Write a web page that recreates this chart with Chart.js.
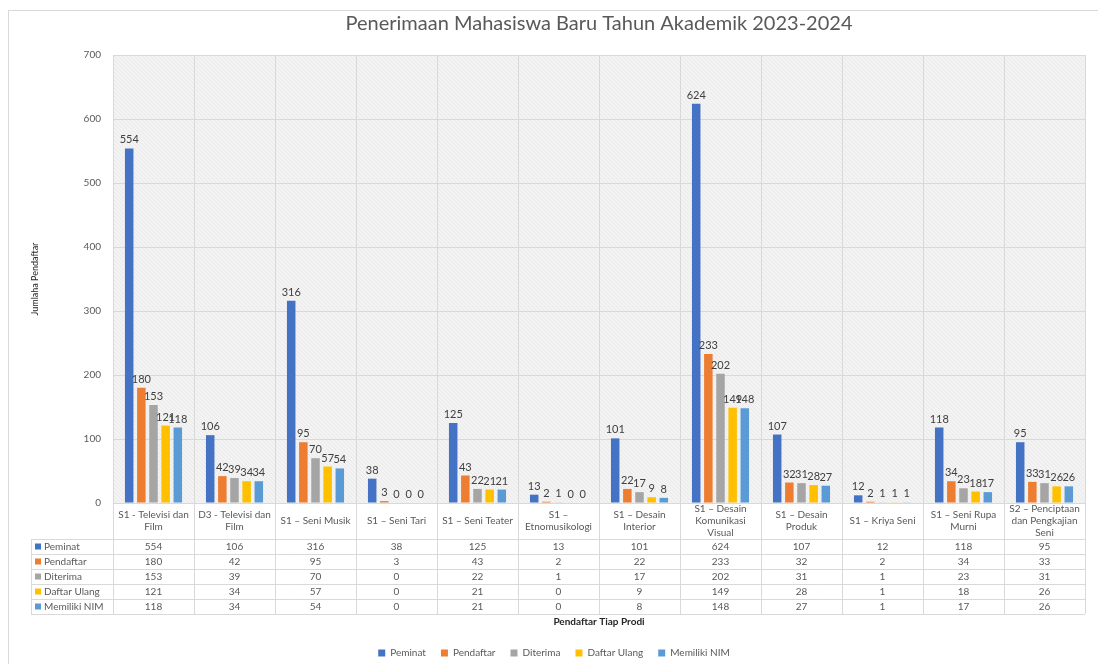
<!DOCTYPE html>
<html>
<head>
<meta charset="utf-8">
<script src="https://cdn.jsdelivr.net/npm/chart.js@4.4.1/dist/chart.umd.min.js"></script>
<style>
  body { margin: 0; background: #fff; }
  #wrap { position: absolute; left: 8px; top: 10px; width: 1090px; height: 654px;
          border-top: 1px solid #d9d9d9; border-left: 1px solid #d9d9d9; }
</style>
</head>
<body>
<div id="wrap"><canvas id="myChart"></canvas></div>
<script>
var categories = [
  ['S1 - Televisi dan', 'Film'],
  ['D3 - Televisi dan', 'Film'],
  ['S1 \u2013 Seni Musik'],
  ['S1 \u2013 Seni Tari'],
  ['S1 \u2013 Seni Teater'],
  ['S1 \u2013', 'Etnomusikologi'],
  ['S1 \u2013 Desain', 'Interior'],
  ['S1 \u2013 Desain', 'Komunikasi', 'Visual'],
  ['S1 \u2013 Desain', 'Produk'],
  ['S1 \u2013 Kriya Seni'],
  ['S1 \u2013 Seni Rupa', 'Murni'],
  ['S2 \u2013 Penciptaan', 'dan Pengkajian', 'Seni']
];
var seriesNames = ['Peminat', 'Pendaftar', 'Diterima', 'Daftar Ulang', 'Memiliki NIM'];
var peminat     = [554, 106, 316, 38, 125, 13, 101, 624, 107, 12, 118, 95];
var pendaftar   = [180, 42, 95, 3, 43, 2, 22, 233, 32, 2, 34, 33];
var diterima    = [153, 39, 70, 0, 22, 1, 17, 202, 31, 1, 23, 31];
var daftarUlang = [121, 34, 57, 0, 21, 0, 9, 149, 28, 1, 18, 26];
var memilikiNim = [118, 34, 54, 0, 21, 0, 8, 148, 27, 1, 17, 26];
var yMin = 0, yMax = 700, yStep = 100;

var colors = ['#4472C4', '#ED7D31', '#A5A5A5', '#FFC000', '#5B9BD5'];
var FONT = 'Lato, "Open Sans", sans-serif';
var TXT = '#595959';
var LINE = '#d9d9d9';
var LABEL_ROW = 36, ROW_H = 15;

// hatched background like the Excel plot area
function makePattern(ctx) {
  var c = document.createElement('canvas');
  c.width = 4; c.height = 4;
  var p = c.getContext('2d');
  p.fillStyle = '#f3f3f3';
  p.fillRect(0, 0, 4, 4);
  p.strokeStyle = '#e9e9e9';
  p.lineWidth = 1;
  p.beginPath();
  p.moveTo(0, 0); p.lineTo(4, 4);
  p.stroke();
  return ctx.createPattern(c, 'repeat');
}

var extras = {
  id: 'extras',
  beforeDraw: function (chart) {
    var ctx = chart.ctx, a = chart.chartArea;
    ctx.save();
    ctx.fillStyle = makePattern(ctx);
    ctx.fillRect(a.left, a.top, a.right - a.left, a.bottom - a.top);
    ctx.restore();
  },
  afterDatasetsDraw: function (chart) {
    var ctx = chart.ctx;
    ctx.save();
    ctx.font = '11px ' + FONT;
    ctx.fillStyle = '#404040';
    ctx.textAlign = 'center';
    ctx.textBaseline = 'bottom';
    chart.data.datasets.forEach(function (ds, di) {
      chart.getDatasetMeta(di).data.forEach(function (el, i) {
        ctx.fillText(String(ds.data[i]), el.x, el.y - 3);
      });
    });
    ctx.restore();
  },
  afterDraw: function (chart) {
    var ctx = chart.ctx, a = chart.chartArea, x = chart.scales.x;
    var n = categories.length;
    var cw = (a.right - a.left) / n;
    var tableLeft = 22;
    var rowTop = a.bottom + LABEL_ROW;
    var tableBottom = rowTop + ROW_H * seriesNames.length;
    ctx.save();
    ctx.strokeStyle = LINE;
    ctx.lineWidth = 1;
    ctx.beginPath();
    // vertical lines through label row and table
    for (var i = 0; i <= n; i++) {
      var vx = Math.round(a.left + i * cw) + 0.5;
      ctx.moveTo(vx, a.bottom); ctx.lineTo(vx, tableBottom);
    }
    ctx.moveTo(tableLeft + 0.5, rowTop); ctx.lineTo(tableLeft + 0.5, tableBottom);
    // horizontal lines
    for (var r = 0; r <= seriesNames.length; r++) {
      var hy = Math.round(rowTop + r * ROW_H) + 0.5;
      ctx.moveTo(tableLeft, hy); ctx.lineTo(a.right, hy);
    }
    ctx.stroke();

    ctx.font = '10px ' + FONT;
    ctx.fillStyle = TXT;
    ctx.textAlign = 'center';
    ctx.textBaseline = 'middle';
    // category labels, centered vertically in their cell
    categories.forEach(function (lines, i) {
      var cx = x.getPixelForValue(i);
      var lh = 12;
      var y0 = a.bottom + LABEL_ROW / 2 - (lines.length - 1) * lh / 2;
      lines.forEach(function (t, k) { ctx.fillText(t, cx, y0 + k * lh); });
    });
    // table rows
    chart.data.datasets.forEach(function (ds, di) {
      var cy = rowTop + di * ROW_H + ROW_H / 2;
      ctx.textAlign = 'center';
      ctx.fillStyle = TXT;
      ds.data.forEach(function (v, i) {
        ctx.fillText(String(v), x.getPixelForValue(i), cy);
      });
      ctx.fillStyle = colors[di];
      ctx.fillRect(tableLeft + 4, cy - 3, 6, 6);
      ctx.fillStyle = TXT;
      ctx.textAlign = 'left';
      ctx.fillText(ds.label, tableLeft + 13, cy);
    });
    ctx.restore();
  }
};

var dataArrays = [peminat, pendaftar, diterima, daftarUlang, memilikiNim];
var ctx = document.getElementById('myChart').getContext('2d');
var chart = new Chart(ctx, {
  type: 'bar',
  data: {
    labels: categories,
    datasets: seriesNames.map(function (name, i) {
      return {
        label: name,
        data: dataArrays[i],
        backgroundColor: colors[i],
        categoryPercentage: 0.75,
        barPercentage: 0.7
      };
    })
  },
  plugins: [extras],
  options: {
    responsive: true,
    maintainAspectRatio: false,
    animation: false,
    layout: { padding: { left: 14, right: 14, top: 0, bottom: -3 } },
    plugins: {
      title: {
        display: true,
        fullSize: false,
        text: 'Penerimaan Mahasiswa Baru Tahun Akademik 2023-2024',
        color: TXT,
        font: { family: FONT, size: 20, weight: 'normal' },
        padding: { top: 1, bottom: 19 }
      },
      legend: {
        position: 'bottom',
        labels: {
          color: TXT,
          font: { family: FONT, size: 10 },
          boxWidth: 7, boxHeight: 7,
          padding: 15
        }
      },
      tooltip: { enabled: false }
    },
    scales: {
      x: {
        grid: { color: LINE, offset: true, drawTicks: false },
        border: { color: LINE },
        ticks: { display: false },
        title: {
          display: true,
          text: 'Pendaftar Tiap Prodi',
          color: '#262626',
          font: { family: FONT, size: 10, weight: 'bold' },
          padding: { top: 113, bottom: 5 }
        }
      },
      y: {
        min: yMin, max: yMax,
        afterFit: function (s) { s.width = 90; },
        grid: { color: LINE, drawTicks: false },
        border: { color: LINE },
        ticks: {
          stepSize: yStep,
          color: TXT,
          padding: 12,
          font: { family: FONT, size: 10 }
        },
        title: {
          display: true,
          text: 'Jumlaha Pendaftar',
          color: '#262626',
          font: { family: FONT, size: 9 },
          padding: 7
        }
      }
    }
  }
});
</script>
</body>
</html>
